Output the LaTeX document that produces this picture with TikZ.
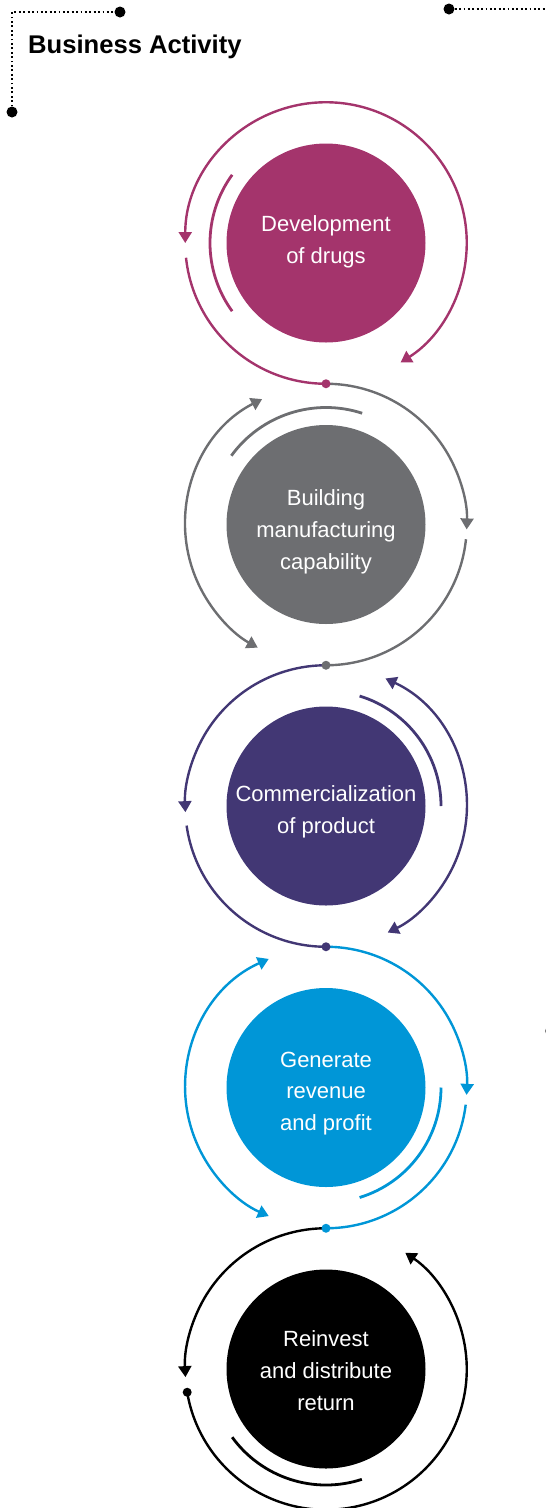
\documentclass[tikz,border=0pt]{standalone}
\usepackage{fontspec}
\setmainfont{Liberation Sans}
\usetikzlibrary{arrows.meta}
\definecolor{stepmagenta}{HTML}{A4346C}
\definecolor{stepgray}{HTML}{6D6E71}
\definecolor{steppurple}{HTML}{423774}
\definecolor{stepblue}{HTML}{0096D7}
\definecolor{stepblack}{HTML}{000000}
% arc around the centre of a node: style, node, start angle, end angle, radius
\newcommand\steparc[5]{\draw[#1] ([shift={(#3:#5)}]#2.center) arc[start angle=#3, end angle=#4, radius=#5];}
\begin{document}
\begin{tikzpicture}[x=1pt,y=1pt,
  ring/.style={line width=2.4pt},
  innerarc/.style={line width=2.8pt},
  headend/.style={-{Triangle[length=11pt,width=13pt]}},
  headboth/.style={{Triangle[length=11pt,width=13pt]}-{Triangle[length=11pt,width=13pt]}},
  stepdisk/.style={circle, minimum size=199pt, inner sep=0pt, draw=none},
  steptext/.style={text=white, align=center, inner sep=0pt, anchor=base,
    font=\fontsize{22}{31.8}\selectfont},
  dotline/.style={line width=1.8pt, dash pattern=on 1.8pt off 2.6pt},
  enddot/.style={circle, inner sep=0pt, minimum size=11pt, fill=black}
]
\useasboundingbox (0,0) rectangle (546,-1508);

% header frame
\coordinate (hcorner) at (12,-12);
\node[enddot] (hbottom) at (12,-112) {};
\node[enddot] (hright) at (120,-12) {};
\draw[dotline] (hbottom) -- (hcorner) -- (hright);
\node[enddot] (rstart) at (449,-9) {};
\coordinate (redge) at (546,-9);
\draw[dotline] (rstart) -- (redge);
\node[enddot, fill=black!55, minimum size=9pt] (sidemark) at (549.5,-1031) {};

\node[anchor=base west, inner sep=0pt, font=\fontsize{25.6}{30}\selectfont\bfseries]
  (title) at (28,-53) {Business Activity};

% step disks
\node[stepdisk, fill=stepmagenta] (c1) at (326,-243) {};
\node[stepdisk, fill=stepgray]    (c2) at (326,-524.5) {};
\node[stepdisk, fill=steppurple]  (c3) at (326,-806) {};
\node[stepdisk, fill=stepblue]    (c4) at (326,-1087.5) {};
\node[stepdisk, fill=stepblack]   (c5) at (326,-1369) {};

% labels, placed by the baseline of their last line
\node[steptext] (t1) at (326,-263.3) {Development\\of drugs};
\node[steptext] (t2) at (326,-569) {Building\\manufacturing\\capability};
\node[steptext] (t3) at (326,-833.3) {Commercialization\\of product};
\node[steptext] (t4) at (326,-1130.7) {Generate\\revenue\\and profit};
\node[steptext] (t5) at (326,-1410) {Reinvest\\and distribute\\return};

% step 1
\begin{scope}[color=stepmagenta]
\steparc{ring,headboth}{c1}{180}{-58}{140.75}
\steparc{ring}{c1}{186}{270}{140.75}
\steparc{innerarc}{c1}{144}{216}{116}
\end{scope}

% step 2
\begin{scope}[color=stepgray]
\steparc{ring,headend}{c2}{90}{-2}{140.75}
\steparc{ring}{c2}{-6}{-90}{140.75}
\steparc{ring,headboth}{c2}{117}{241}{140.75}
\steparc{innerarc}{c2}{72}{144}{117}
\end{scope}

% step 3
\begin{scope}[color=steppurple]
\steparc{ring,headend}{c3}{90}{182.5}{140.75}
\steparc{ring}{c3}{188}{270}{140.75}
\steparc{ring,headboth}{c3}{65}{-64}{140.75}
\steparc{innerarc}{c3}{0}{73}{115}
\end{scope}

% step 4
\begin{scope}[color=stepblue]
\steparc{ring,headend}{c4}{90}{-3}{140.75}
\steparc{ring}{c4}{-7}{-90}{140.75}
\steparc{ring,headboth}{c4}{114}{246}{140.75}
\steparc{innerarc}{c4}{0}{-73}{115}
\end{scope}

% step 5
\begin{scope}[color=stepblack]
\steparc{ring,headend}{c5}{90}{183.3}{140.75}
\steparc{ring,headend}{c5}{189.5}{415.7}{140.75}
\steparc{innerarc}{c5}{216}{288}{116}
\fill ([shift={(189.5:140.75)}]c5.center) circle (4.5);
\end{scope}

% junction dots between the rings
\fill[stepmagenta] (c1.center) ++(0,-140.75) circle (4.5);
\fill[stepgray]    (c2.center) ++(0,-140.75) circle (4.5);
\fill[steppurple]  (c3.center) ++(0,-140.75) circle (4.5);
\fill[stepblue]    (c4.center) ++(0,-140.75) circle (4.5);
\end{tikzpicture}
\end{document}
